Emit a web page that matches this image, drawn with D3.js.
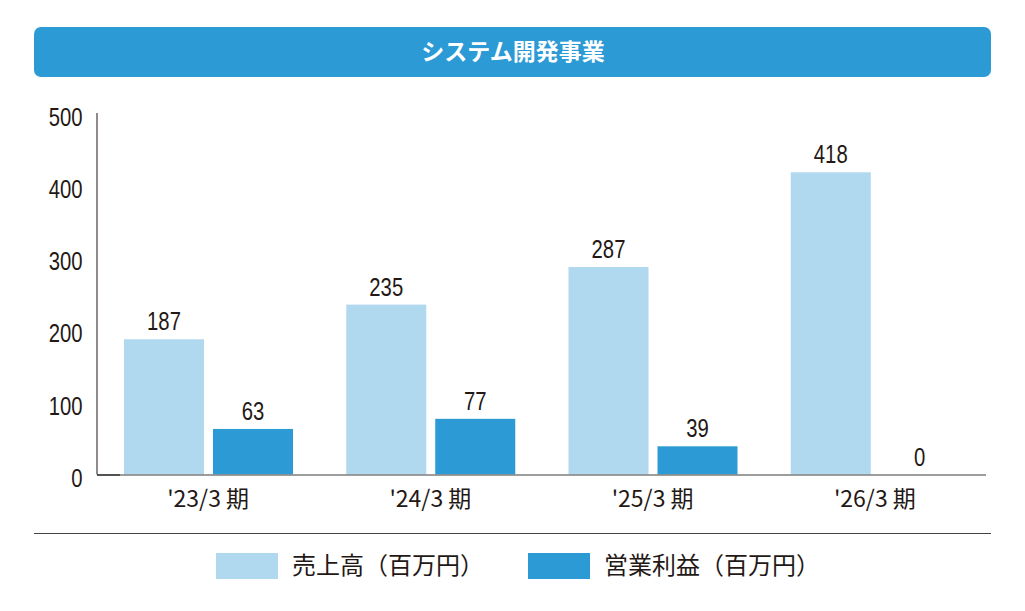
<!DOCTYPE html>
<html>
<head>
<meta charset="utf-8">
<script src="https://cdn.jsdelivr.net/npm/d3@7"></script>
<style>
  body { margin: 0; background: #fff; }
  .num { font-family: "Liberation Sans", "Roboto", sans-serif; fill: #231815; }
  .jp { font-family: "Noto Sans CJK JP", "Noto Sans", sans-serif; fill: #231815; }
</style>
</head>
<body>
<div id="chart"></div>
<script>
var title = "システム開発事業";
var categories = ["'23/3 期", "'24/3 期", "'25/3 期", "'26/3 期"];
var sales = [187, 235, 287, 418];
var profit = [63, 77, 39, 0];
var seriesNames = ["売上高（百万円）", "営業利益（百万円）"];
var yTicks = [0, 100, 200, 300, 400, 500];

var colors = ["#b0d8ee", "#2b9ad5"];

var width = 1025, height = 611;
var svg = d3.select('#chart').append('svg')
    .attr('width', width)
    .attr('height', height);

// title bar
svg.append('rect')
    .attr('x', 34).attr('y', 27)
    .attr('width', 957).attr('height', 50)
    .attr('rx', 7)
    .style('fill', '#2b9ad5');
svg.append('text')
    .attr('class', 'jp')
    .attr('x', 513).attr('y', 60)
    .attr('text-anchor', 'middle')
    .style('font-size', '23px')
    .style('font-weight', 'bold')
    .style('fill', '#fff')
    .text(title);

var x0 = d3.scaleBand()
    .domain(categories)
    .range([97, 986]);

var y = d3.scaleLinear()
    .domain([0, 500])
    .range([474.5, 113]);

var barW = 80;
var data = categories.map(function(c, i) {
    return { cat: c, vals: [sales[i], profit[i]] };
});

// condensed numerals: squeeze a normal face horizontally
var squeeze = 0.78;

// bars
var groups = svg.selectAll('.grp')
    .data(data)
    .enter().append('g')
    .attr('class', 'grp')
    .attr('transform', function(d) { return 'translate(' + x0(d.cat) + ',0)'; });

groups.selectAll('rect')
    .data(function(d) { return d.vals; })
    .enter().append('rect')
    .attr('x', function(d, i) { return 27 + i * (barW + 9); })
    .attr('y', function(d) { return y(d); })
    .attr('width', barW)
    .attr('height', function(d) { return y(0) - y(d); })
    .style('fill', function(d, i) { return colors[i]; });

groups.selectAll('text.val')
    .data(function(d) { return d.vals; })
    .enter().append('text')
    .attr('class', 'num val')
    .attr('text-anchor', 'middle')
    .attr('transform', function(d, i) {
        return 'translate(' + (27 + i * (barW + 9) + barW / 2) + ',' + (y(d) - 9) + ') scale(' + squeeze + ',1)';
    })
    .style('font-size', '26px')
    .text(function(d) { return d; });

// y axis
svg.append('line')
    .attr('x1', 97).attr('x2', 97)
    .attr('y1', y(500)).attr('y2', y(0))
    .style('stroke', '#231815').style('stroke-width', 1);

svg.selectAll('text.ytick')
    .data(yTicks)
    .enter().append('text')
    .attr('class', 'num ytick')
    .attr('text-anchor', 'end')
    .attr('transform', function(d) { return 'translate(82.5,' + (y(d) + 12.5) + ') scale(' + squeeze + ',1)'; })
    .style('font-size', '26px')
    .text(function(d) { return d; });

// x axis
svg.append('line')
    .attr('x1', 97).attr('x2', 986)
    .attr('y1', y(0) + 0.5).attr('y2', y(0) + 0.5)
    .style('stroke', '#7d7d7d').style('stroke-width', 1.5);
svg.append('line')
    .attr('x1', 97).attr('x2', 120)
    .attr('y1', y(0) + 0.5).attr('y2', y(0) + 0.5)
    .style('stroke', '#3a3a3a').style('stroke-width', 1.5);

svg.selectAll('text.xlab')
    .data(categories)
    .enter().append('text')
    .attr('class', 'jp xlab')
    .attr('x', function(d) { return x0(d) + x0.bandwidth() / 2; })
    .attr('y', 507)
    .attr('text-anchor', 'middle')
    .style('font-size', '23px')
    .text(function(d) { return d; });

// separator
svg.append('line')
    .attr('x1', 34).attr('x2', 991)
    .attr('y1', 533.5).attr('y2', 533.5)
    .style('stroke', '#444').style('stroke-width', 1);

// legend
var legendX = [216, 528];
var leg = svg.selectAll('.leg')
    .data(seriesNames)
    .enter().append('g')
    .attr('class', 'leg')
    .attr('transform', function(d, i) { return 'translate(' + legendX[i] + ',553)'; });
leg.append('rect')
    .attr('width', 62).attr('height', 26)
    .style('fill', function(d, i) { return colors[i]; });
leg.append('text')
    .attr('class', 'jp')
    .attr('x', 76).attr('y', 21)
    .style('font-size', '24px')
    .text(function(d) { return d; });
</script>
</body>
</html>
